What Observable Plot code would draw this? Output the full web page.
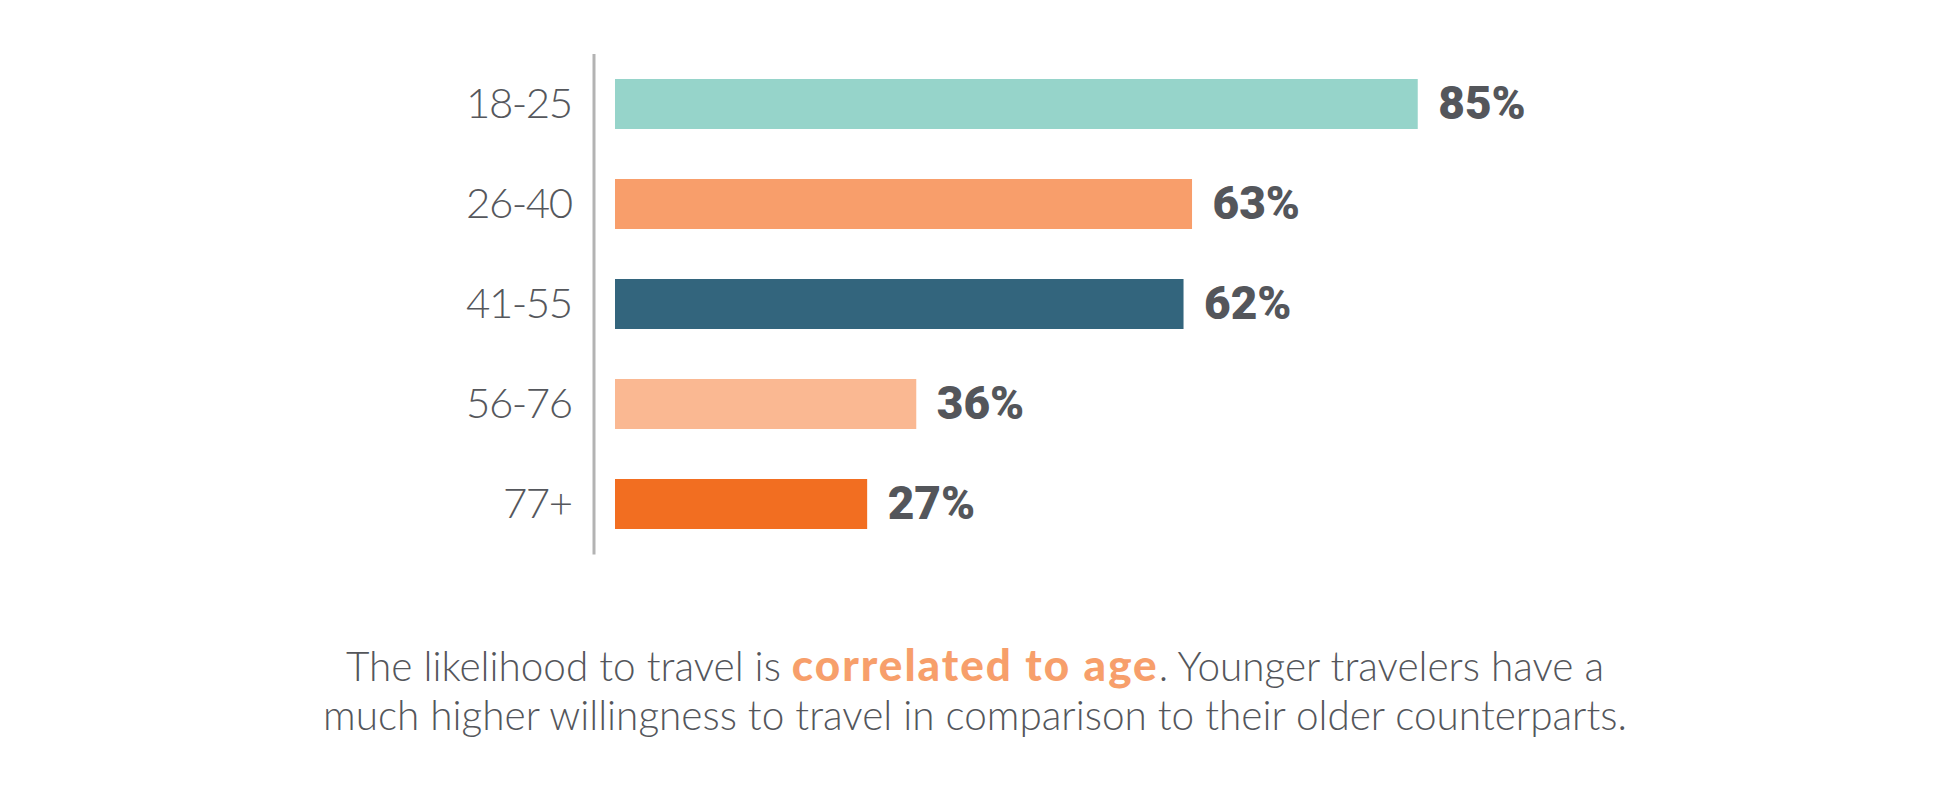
<!DOCTYPE html>
<html>
<head>
<meta charset="utf-8">
<script src="https://cdn.jsdelivr.net/npm/d3@7"></script>
<script src="https://cdn.jsdelivr.net/npm/@observablehq/plot@0.6"></script>
<style>
  html, body { margin: 0; padding: 0; background: #fff; }
  #chart { width: 1950px; height: 580px; }
  #chart svg g[aria-label="y-axis tick label"] text { letter-spacing: -1.5px; }
  #caption {
    width: 1950px;
    margin-top: 62px;
    text-align: center;
    font-family: Lato, "Open Sans", sans-serif;
    font-weight: 300;
    font-size: 40.5px;
    line-height: 48.7px;
    color: #54565b;
  }
  #caption b { font-weight: 900; color: #F79F6B; font-size: 44px; letter-spacing: 2px; line-height: 40px; }
</style>
</head>
<body>
<div id="chart"></div>
<div id="caption"></div>
<script>
// Data
const ageGroups = ["18-25", "26-40", "41-55", "56-76", "77+"];
const barLengths = [85, 61.1, 60.2, 31.9, 26.7];      // drawn bar lengths (% scale units)
const valueLabels = ["85%", "63%", "62%", "36%", "27%"];
const barColors = ["#96D4CA", "#F89E6B", "#33657D", "#FAB892", "#F26E21"];
const captionLine1Before = "The likelihood to travel is ";
const captionHighlight = "correlated to age";
const captionLine1After = ". Younger travelers have a";
const captionLine2 = "much higher willingness to travel in comparison to their older counterparts.";

const rows = ageGroups.map((g, i) => ({group: g, length: barLengths[i], label: valueLabels[i], color: barColors[i]}));

const chart = Plot.plot({
  width: 1950,
  height: 580,
  marginLeft: 615,
  marginRight: 390.6,
  marginTop: 54,
  marginBottom: 25.5,
  style: {fontFamily: "Lato, sans-serif", background: "#fff"},
  x: {domain: [0, 100], axis: null},
  y: {domain: ageGroups, paddingInner: 0.5, paddingOuter: 0.25, axis: null},
  marks: [
    Plot.barX(rows, {x: "length", y: "group", fill: "color"}),
    Plot.ruleX([0], {dx: -21.5, stroke: "#b3b3b3", strokeWidth: 3}),
    Plot.axisY({tickSize: 0, tickPadding: 44, label: null, fontSize: 42, fontWeight: 300, fill: "#55575c", fontFamily: "Lato, sans-serif"}),
    Plot.text(rows, {x: "length", y: "group", text: "label", dx: 20, textAnchor: "start",
      fontSize: 46, fontWeight: 900, fill: "#54565b", fontFamily: "Roboto, sans-serif"})
  ]
});
document.getElementById("chart").appendChild(chart);

const cap = document.getElementById("caption");
cap.appendChild(document.createTextNode(captionLine1Before));
const b = document.createElement("b");
b.textContent = captionHighlight;
cap.appendChild(b);
cap.appendChild(document.createTextNode(captionLine1After));
cap.appendChild(document.createElement("br"));
cap.appendChild(document.createTextNode(captionLine2));
</script>
</body>
</html>
